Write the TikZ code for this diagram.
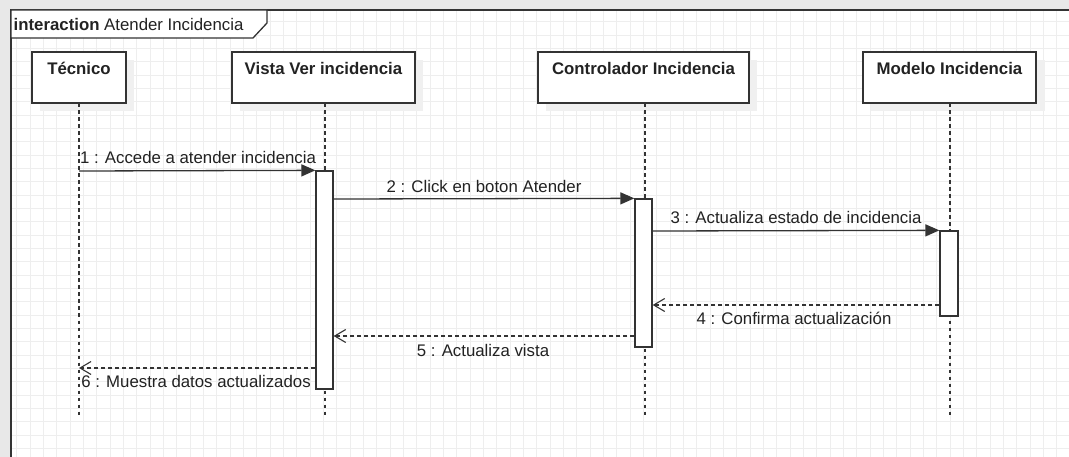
\documentclass[tikz,border=0pt]{standalone}
\usepackage{fontspec}
\setmainfont{Liberation Sans}
\usetikzlibrary{arrows.meta,calc}
\definecolor{linec}{HTML}{333333}
\definecolor{gridc}{HTML}{EEEEEE}
\definecolor{shadowc}{HTML}{F0F0F0}
\definecolor{outerc}{HTML}{E8E8E8}
\definecolor{textc}{HTML}{222222}
\tikzset{
  lbl/.style={font=\fontsize{16.8}{18}\selectfont, text=textc, inner sep=0pt},
  objbox/.style={draw=linec, line width=1.3pt, fill=white, minimum height=51pt, inner sep=0pt},
  objtitle/.style={font=\fontsize{16.8}{18}\selectfont\bfseries, text=textc, inner sep=0pt},
  lifeline/.style={draw=linec, line width=1.2pt, dash pattern=on 3.5pt off 3.5pt},
  actbar/.style={draw=linec, line width=1.3pt, fill=white, minimum width=17pt, inner sep=0pt},
  syncmsg/.style={draw=linec, line width=1.3pt, -{Triangle[length=14pt,width=12pt]}},
  retmsg/.style={draw=linec, line width=1.1pt, dash pattern=on 4pt off 3pt, -{Straight Barb[length=11pt,width=13pt,line width=1.1pt]}},
  shadowbox/.style={fill=shadowc, draw=none}
}
\begin{document}
\begin{tikzpicture}[x=1pt,y=-1pt]
\useasboundingbox (0,0) rectangle (1069,457);
% outer shade
\fill[outerc] (0,0) rectangle (1069,457);
\fill[white] (11,10) rectangle (1069,457);
% grid
\foreach \i in {1,...,80} {
  \pgfmathsetmacro{\gx}{3.333+\i*13.3333}
  \ifdim \gx pt>12pt \draw[gridc, line width=0.8pt] (\gx,10) -- (\gx,457); \fi
}
\foreach \j in {1,...,34} {
  \pgfmathsetmacro{\gy}{8.333+\j*13.3333}
  \ifdim \gy pt>11pt \draw[gridc, line width=0.8pt] (11,\gy) -- (1069,\gy); \fi
}
% frame
\draw[linec, line width=1.4pt] (1069,10) -- (11,10) -- (11,457);
\draw[linec, line width=1.3pt, fill=white] (11,10) -- (267,10) -- (267,23) -- (253,38) -- (11,38) -- cycle;
\node[lbl, anchor=west] (title) at (13.5,24) {\textbf{interaction} Atender Incidencia};
% shadows
\fill[shadowc] (40,60) rectangle (134,111);
\fill[shadowc] (240,60) rectangle (423,111);
\fill[shadowc] (546,60) rectangle (757,111);
\fill[shadowc] (871,60) rectangle (1045,111);
% objects
\node[objbox, minimum width=94pt] (tec) at (79,77.5) {};
\node[objtitle] (tecT) at (79,68) {Técnico};
\node[objbox, minimum width=183pt] (vista) at (323.5,77.5) {};
\node[objtitle] (vistaT) at (323.5,68) {Vista Ver incidencia};
\node[objbox, minimum width=211pt] (ctrl) at (643.5,77.5) {};
\node[objtitle] (ctrlT) at (643.5,68) {Controlador Incidencia};
\node[objbox, minimum width=173pt] (model) at (949.5,77.5) {};
\node[objtitle] (modelT) at (949.5,68) {Modelo Incidencia};
% lifeline ends
\coordinate (tecE) at (79,417);
\coordinate (vistaE) at (325,417);
\coordinate (ctrlE) at (645,417);
\coordinate (modelE) at (950,417);
\draw[lifeline] (79,103.5) -- (tecE);
\draw[lifeline] (325,103.5) -- (vistaE);
\draw[lifeline] (645,103.5) -- (ctrlE);
\draw[lifeline] (950,103.5) -- (modelE);
% activations
\node[actbar, minimum height=218pt] (va) at (324.5,280) {};
\node[actbar, minimum height=148pt] (ca) at (643.5,273) {};
\node[actbar, minimum height=85pt, minimum width=18pt] (ma) at (949,273.5) {};
% messages
\draw[syncmsg] (79,171) -- (va.north west);
\node[lbl] (l1) at (198,157) {1 : Accede a atender incidencia};
\draw[syncmsg] (va.east |- 0,199) -- (ca.north west);
\node[lbl] (l2) at (484,186) {2 : Click en boton Atender};
\draw[syncmsg] (ca.east |- 0,231) -- (ma.north west);
\node[lbl] (l3) at (796,217) {3 : Actualiza estado de incidencia};
\draw[retmsg] (ma.west |- 0,305) -- (ca.east |- 0,305);
\node[lbl] (l4) at (794,318) {4 : Confirma actualización};
\draw[retmsg] (ca.west |- 0,336) -- (va.east |- 0,336);
\node[lbl] (l5) at (483,350) {5 : Actualiza vista};
\draw[retmsg] (va.west |- 0,368) -- (79,368);
\node[lbl] (l6) at (196,381) {6 : Muestra datos actualizados};
\end{tikzpicture}
\end{document}
